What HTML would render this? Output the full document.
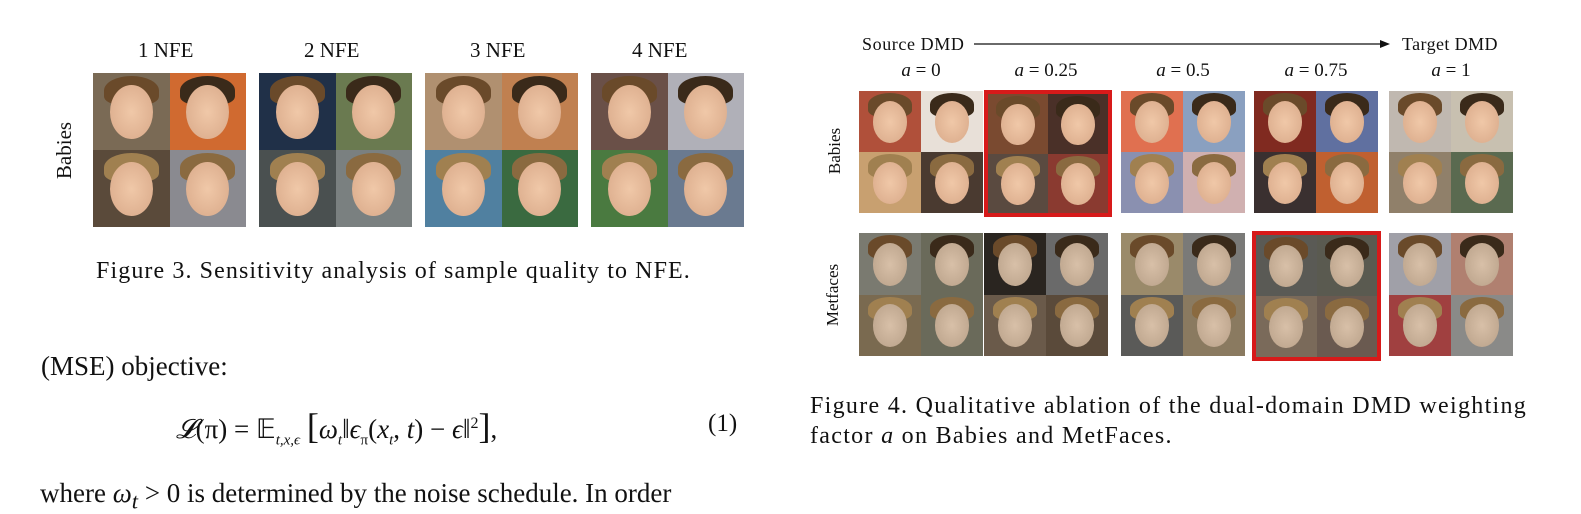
<!DOCTYPE html>
<html><head><meta charset="utf-8"><style>
body{margin:0;width:1581px;height:487px;background:#fff;position:relative;overflow:hidden;font-family:"Liberation Serif",serif;color:#111}
.a{position:absolute;white-space:nowrap}
.grid{position:absolute;display:grid;grid-template-columns:1fr 1fr;grid-template-rows:1fr 1fr;box-sizing:border-box}
.cell{position:relative;overflow:hidden}
.face{position:absolute;left:22%;top:16%;width:56%;height:70%;border-radius:50%}
.hair{position:absolute;left:14%;top:4%;width:72%;height:38%;border-radius:50% 50% 30% 30%}
.red{border:4px solid #d71a1a}
</style></head><body>
<div class="a" style="left:138px;top:38px;font-size:21px">1 NFE</div>
<div class="a" style="left:304px;top:38px;font-size:21px">2 NFE</div>
<div class="a" style="left:470px;top:38px;font-size:21px">3 NFE</div>
<div class="a" style="left:632px;top:38px;font-size:21px">4 NFE</div>
<div class="a" style="left:36px;top:138px;font-size:21px;transform:rotate(-90deg);transform-origin:center">Babies</div>
<div class="a" style="left:96px;top:258px;font-size:24px;letter-spacing:1.1px">Figure 3. Sensitivity analysis of sample quality to NFE.</div>
<div class="a" style="left:41px;top:351px;font-size:27px">(MSE) objective:</div>
<div class="a" style="left:176px;top:405px;font-size:27px;font-family:'Liberation Serif',serif"><i>𝓛</i>(π) = 𝔼<sub style="font-size:15px"><i>t,x,ϵ</i></sub> <span style="font-size:36px">[</span><i>ω<sub style="font-size:15px">t</sub></i>‖<i>ϵ</i><sub style="font-size:15px">π</sub>(<i>x<sub style="font-size:15px">t</sub></i>, <i>t</i>) − <i>ϵ</i>‖<sup style="font-size:16px">2</sup><span style="font-size:36px">]</span>,</div>
<div class="a" style="left:708px;top:410px;font-size:25px">(1)</div>
<div class="a" style="left:40px;top:478px;font-size:27px">where <i>ω<sub>t</sub></i> &gt; 0 is determined by the noise schedule. In order</div>

<div class="a" style="left:862px;top:34px;font-size:18px;letter-spacing:0.6px">Source DMD</div>
<svg class="a" style="left:970px;top:38px" width="425" height="12"><line x1="4" y1="6" x2="414" y2="6" stroke="#111" stroke-width="1.3"/><polygon points="410,2 420,6 410,10" fill="#111"/></svg>
<div class="a" style="left:1402px;top:34px;font-size:18px;letter-spacing:0.4px">Target DMD</div>
<div class="a" style="left:812px;top:141px;font-size:17px;transform:rotate(-90deg)">Babies</div>
<div class="a" style="left:802px;top:285px;font-size:17px;transform:rotate(-90deg)">Metfaces</div>
<div class="a" style="left:810px;top:393px;font-size:24px;letter-spacing:1.3px">Figure 4. Qualitative ablation of the dual-domain DMD weighting</div>
<div class="a" style="left:810px;top:423px;font-size:24px;letter-spacing:1.3px">factor <i>a</i> on Babies and MetFaces.</div>
<script>
const aLabels=["a = 0","a = 0.25","a = 0.5","a = 0.75","a = 1"];
const babyBg=[["#7a6a55","#d06a30","#5a4a3a","#8a8a90"],["#203048","#6a7a50","#4a5050","#7a8080"],["#b09070","#c08050","#5080a0","#3a6a40"],["#6a5048","#b0b0b8","#4a7a40","#6a7a90"]];
const babyBg2=[["#b0503a","#e8e0d8","#c8a070","#4a3a30"],["#7a4a30","#4a3028","#5a4a40","#8a3a30"],["#e07050","#8aa0c0","#8a90b0","#d0b0b0"],["#802a20","#6070a0","#3a3030","#c06030"],["#c0b8b0","#c8c0b0","#90806a","#5a6a50"]];
const metBg=[["#7a7a70","#6a6a5a","#7a6a50","#6a6a5a"],["#2a2520","#6a6a6a","#6a5a4a","#5a4a3a"],["#9a8a6a","#7a7a78","#5a5a58","#8a7a60"],["#5a5a55","#5a5a50","#7a6a5a","#6a5a50"],["#a0a0a8","#b08070","#a04040","#8a8a88"]];
const hairC=["#6a4a2a","#3a2a1a","#a08050","#8a6a40"];
function cell(parent,bg,i,skin){const c=document.createElement('div');c.className='cell';c.style.background=bg;


const h=document.createElement('div');h.className='hair';h.style.background=hairC[i%4];c.appendChild(h);
const f=document.createElement('div');f.className='face';f.style.background=skin;c.appendChild(f);parent.appendChild(c);}
function grid(x,y,w,h,bgs,skin,red,name){const g=document.createElement('div');g.className='grid'+(red?' red':'');
g.style.left=x+'px';g.style.top=y+'px';g.style.width=w+'px';g.style.height=h+'px';


bgs.forEach((b,i)=>cell(g,b,i,skin));document.body.appendChild(g);}
const f3x=[93,259,425,591];
f3x.forEach((x,k)=>grid(x,73,153,154,babyBg[k],"radial-gradient(#f0c8a8,#d8a888)",false,'nfe-grid-'+(k+1)));
const f4x=[859,984,1121,1254,1389];
f4x.forEach((x,k)=>{
 const l=document.createElement('div');l.className='a';l.style.left=(x+62)+'px';l.style.transform='translateX(-50%)';l.style.top='60px';l.style.fontSize='19px';l.innerHTML='<i>a</i>'+aLabels[k].slice(1);
 
 
 document.body.appendChild(l);
 if(k===1)grid(x,90,128,127,babyBg2[k],"radial-gradient(#f0c8a8,#d8a888)",true,'babies-grid');
 else grid(x,91,124,122,babyBg2[k],"radial-gradient(#f0c8a8,#d8a888)",false,'babies-grid');
 if(k===3)grid(x-2,231,129,130,metBg[k],"radial-gradient(#d8c0a8,#b8a088)",true,'metfaces-grid');
 else grid(x,233,124,123,metBg[k],"radial-gradient(#d8c0a8,#b8a088)",false,'metfaces-grid');
});
</script>
</body></html>
